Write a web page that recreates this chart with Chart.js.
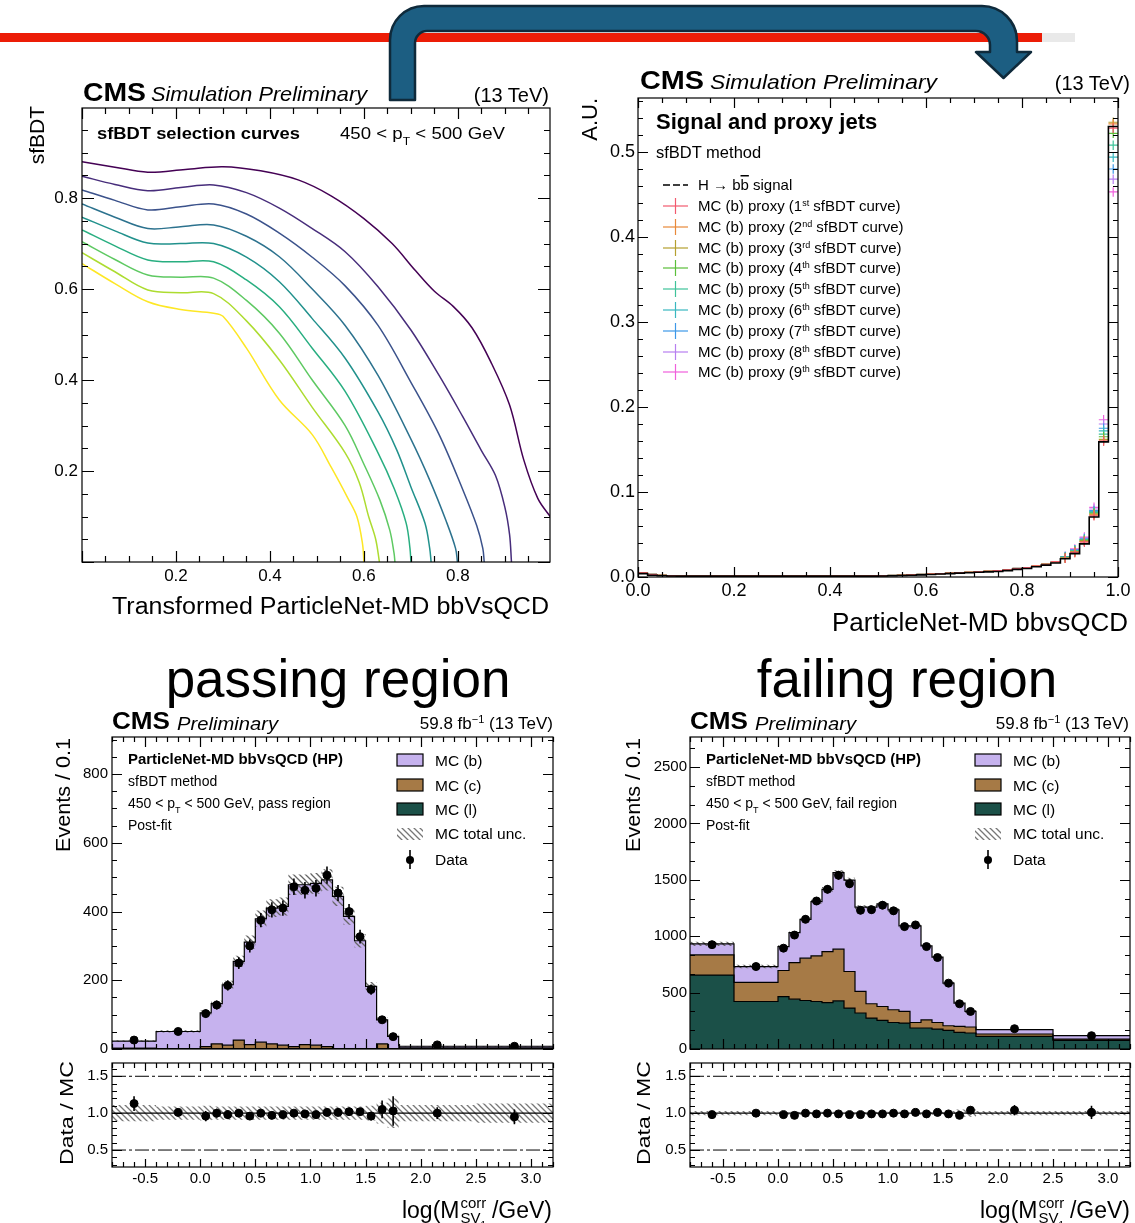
<!DOCTYPE html>
<html>
<head>
<meta charset="utf-8">
<title>sfBDT selection curves and SV mass templates</title>
<script src="https://cdn.jsdelivr.net/npm/chart.js@4.4.1/dist/chart.umd.min.js"></script>
<style>
  html, body { margin: 0; padding: 0; background: #fff; }
  body { position: relative; width: 1135px; height: 1223px; overflow: hidden; font-family: 'Liberation Sans', Arial, sans-serif; }
  canvas { position: absolute; z-index: 1; }
  #ann { position: absolute; left: 0; top: 0; z-index: 2; pointer-events: none; font-family: 'Liberation Sans', Arial, sans-serif; }
</style>
</head>
<body>
<svg id="ann" width="1135" height="1223" xmlns="http://www.w3.org/2000/svg">
  <defs>
    <pattern id="hatch" width="6" height="6" patternUnits="userSpaceOnUse">
      <path d="M-1,-1 L7,7 M-1,5 L1,7 M5,-1 L7,1" stroke="#777" stroke-width="1.3"/>
    </pattern>
  </defs>
  <rect x="0" y="33" width="1042" height="9" fill="#ec1d07"/>
  <rect x="1042" y="33" width="33" height="9" fill="#e9e9e9"/>
  <path d="M390 100 L390 40 A34 34 0 0 1 424 6 L982 6 A35 35 0 0 1 1017 41 L1017 52 L1031 52 L1003.5 78 L976 52 L990 52 L990 45 A14 14 0 0 0 976 31 L427 31 A12 12 0 0 0 415 43 L415 100 Z"
        fill="#1c5e82" stroke="#0f2a3b" stroke-width="2.5" stroke-linejoin="round"/>
</svg>
<script>
// sfBDT selection curves, (x, sfBDT) pairs, 1st curve on top
const curve1 = [[0,0.880],[0.07,0.868],[0.14,0.857],[0.22,0.863],[0.30,0.869],[0.38,0.860],[0.46,0.840],[0.53,0.805],[0.60,0.755],[0.66,0.700],[0.71,0.640],[0.75,0.595],[0.79,0.562],[0.83,0.515],[0.87,0.440],[0.91,0.345],[0.94,0.225],[0.97,0.140],[1.0,0.095]];
const curve2 = [[0,0.848],[0.07,0.830],[0.14,0.816],[0.21,0.823],[0.28,0.829],[0.35,0.812],[0.42,0.778],[0.49,0.733],[0.56,0.682],[0.63,0.605],[0.70,0.510],[0.76,0.410],[0.81,0.320],[0.85,0.245],[0.88,0.190],[0.90,0.120],[0.91,0.060],[0.914,0]];
const curve3 = [[0,0.818],[0.07,0.795],[0.14,0.774],[0.21,0.781],[0.28,0.787],[0.35,0.765],[0.42,0.723],[0.49,0.670],[0.56,0.607],[0.63,0.520],[0.70,0.395],[0.76,0.280],[0.81,0.160],[0.84,0.080],[0.853,0.030],[0.856,0]];
const curve4 = [[0,0.787],[0.07,0.758],[0.14,0.733],[0.21,0.737],[0.28,0.741],[0.35,0.716],[0.42,0.671],[0.49,0.600],[0.56,0.520],[0.63,0.410],[0.70,0.270],[0.74,0.180],[0.775,0.090],[0.795,0.030],[0.799,0]];
const curve5 = [[0,0.758],[0.07,0.728],[0.14,0.701],[0.21,0.700],[0.28,0.700],[0.35,0.670],[0.42,0.616],[0.49,0.535],[0.56,0.448],[0.63,0.330],[0.67,0.246],[0.70,0.165],[0.73,0.085],[0.74,0.030],[0.743,0]];
const curve6 = [[0,0.730],[0.07,0.695],[0.14,0.664],[0.21,0.660],[0.28,0.660],[0.35,0.620],[0.42,0.561],[0.49,0.470],[0.56,0.375],[0.63,0.240],[0.665,0.160],[0.69,0.085],[0.698,0.030],[0.700,0]];
const curve7 = [[0,0.704],[0.07,0.665],[0.14,0.631],[0.21,0.626],[0.28,0.624],[0.35,0.575],[0.42,0.503],[0.49,0.400],[0.56,0.300],[0.60,0.215],[0.634,0.136],[0.655,0.070],[0.664,0.020],[0.666,0]];
const curve8 = [[0,0.680],[0.07,0.638],[0.14,0.598],[0.21,0.592],[0.28,0.590],[0.35,0.530],[0.42,0.444],[0.49,0.340],[0.56,0.240],[0.59,0.175],[0.61,0.100],[0.625,0.050],[0.633,0]];
const curve9 = [[0,0.656],[0.07,0.612],[0.14,0.572],[0.21,0.555],[0.28,0.547],[0.30,0.540],[0.35,0.470],[0.42,0.356],[0.49,0.280],[0.53,0.209],[0.566,0.140],[0.585,0.100],[0.597,0.040],[0.600,0]];
const curveColors = ['#440154', '#472d7b', '#3b528b', '#2c728e', '#21918c', '#28ae80', '#5ec962', '#addc30', '#fde725'];

// ParticleNet-MD bbvsQCD shapes, 50 bins of 0.02
const signal = [0.004,0.002,0.0015,0.0012,0.001,0.001,0.001,0.001,0.001,0.001,
                0.001,0.001,0.001,0.001,0.001,0.001,0.001,0.001,0.001,0.001,
                0.001,0.001,0.001,0.001,0.001,0.0012,0.0015,0.0018,0.002,0.0025,
                0.003,0.0035,0.004,0.0045,0.005,0.0055,0.006,0.0065,0.0075,0.009,
                0.010,0.012,0.014,0.0165,0.0215,0.0275,0.039,0.0706,0.159,0.530];
// proxy curves agree below 0.88, they only split in the last six bins
const proxyLow = [0.005,0.003,0.002,0.0015,0.0012,0.0012,0.0012,0.0012,0.0012,0.0012,
                  0.0012,0.0012,0.0012,0.0012,0.0012,0.0012,0.0012,0.0012,0.0012,0.0012,
                  0.0012,0.0012,0.0012,0.0012,0.0013,0.0015,0.0018,0.0021,0.0025,0.003,
                  0.0035,0.004,0.0045,0.005,0.0056,0.0062,0.0068,0.0075,0.0085,0.010,
                  0.011,0.013,0.015,0.018];
const proxy1Tail = [0.022,0.029,0.041,0.072,0.160,0.528];
const proxy2Tail = [0.022,0.029,0.042,0.073,0.160,0.533];
const proxy3Tail = [0.022,0.030,0.042,0.074,0.162,0.535];
const proxy4Tail = [0.023,0.030,0.043,0.075,0.165,0.522];
const proxy5Tail = [0.023,0.031,0.044,0.076,0.168,0.508];
const proxy6Tail = [0.023,0.031,0.044,0.077,0.172,0.494];
const proxy7Tail = [0.024,0.032,0.045,0.078,0.175,0.480];
const proxy8Tail = [0.024,0.032,0.046,0.080,0.180,0.468];
const proxy9Tail = [0.024,0.033,0.047,0.082,0.185,0.453];
const proxyColors = ['#f25a6e', '#e8893a', '#b5a030', '#5bbf3a', '#3fc39a', '#3ab8c0', '#3d98e8', '#b77ff0', '#f060dc'];
const ordinals = ['st', 'nd', 'rd', 'th', 'th', 'th', 'th', 'th', 'th'];

// log(M_SV1^corr / GeV) binning
const svEdges = [-0.8, -0.4, 0.0, 0.1, 0.2, 0.3, 0.4, 0.5, 0.6, 0.7, 0.8, 0.9, 1.0, 1.1, 1.2, 1.3, 1.4, 1.5, 1.6, 1.7, 1.8, 2.5, 3.2];

// pass region, post-fit
const passB = [21,50,98,117,176,229,298,359,395,404,471,465,471,485,443,385,314,181,70,36,5,5];
const passC = [0,0,6,14,10,25,12,19,14,10,6,12,10,6,0,0,0,0,14,0,2,2];
const passL = [2,1,1,1,1,1,1,1,1,1,1,1,1,1,1,1,1,1,1,1,1,1];
const passData = [26,51,103,128,185,250,300,375,405,410,472,462,468,506,454,400,327,173,85,36,12,8];
const passDataErr = [8,10,12,13,15,17,19,21,22,22,24,24,24,25,23,22,20,15,10,7,3,2];
const passUnc = [0.11,0.09,0.10,0.09,0.09,0.09,0.09,0.09,0.09,0.09,0.09,0.09,0.09,0.09,0.09,0.09,0.09,0.10,0.14,0.20,0.11,0.13];
const passRatio = [1.13,1.01,0.96,1.00,0.98,1.00,0.96,1.00,0.97,0.98,1.00,0.99,0.98,1.01,1.01,1.02,1.02,0.96,1.05,1.03,1.00,0.95];
const passRatioErr = [0.10,0.05,0.07,0.06,0.06,0.05,0.05,0.04,0.04,0.04,0.04,0.04,0.04,0.04,0.04,0.04,0.05,0.06,0.12,0.20,0.08,0.10];

// fail region, post-fit
const failB = [97,141,212,266,345,480,552,678,811,747,856,909,885,758,856,655,579,378,207,138,38,30];
const failC = [180,169,231,324,375,405,452,458,324,191,127,124,113,103,49,73,58,41,53,53,21,12];
const failL = [655,421,465,442,430,421,412,427,363,319,274,253,235,230,186,186,177,165,147,142,112,76];
const failData = [925,731,894,1010,1150,1312,1416,1540,1465,1230,1235,1275,1225,1085,1100,908,811,584,401,333,180,118];
const failDataErr = [30,27,30,32,34,36,38,39,38,35,35,36,35,33,33,30,28,24,20,18,13,11];
const failUnc = [0.03,0.03,0.02,0.02,0.02,0.02,0.02,0.02,0.02,0.02,0.02,0.02,0.02,0.02,0.02,0.02,0.02,0.03,0.05,0.05,0.03,0.03];
const failRatio = [0.98,1.00,0.98,0.97,1.00,0.99,1.00,0.99,0.98,0.98,0.99,0.99,1.00,0.99,1.01,0.99,1.01,0.99,0.97,1.04,1.04,1.01];
const failRatioErr = [0.03,0.03,0.03,0.03,0.03,0.03,0.03,0.03,0.03,0.03,0.03,0.03,0.03,0.03,0.03,0.03,0.03,0.04,0.05,0.05,0.07,0.09];

const colB = '#c6b2ee', colC = '#a67a46', colL = '#1b5048';

Chart.defaults.font.family = "'Liberation Sans', Arial, sans-serif";
Chart.defaults.color = '#000';

const svCenters = svEdges.slice(0, -1).map((e, i) => (e + svEdges[i + 1]) / 2);
const bdtEdges = Array.from({length: 51}, (_, i) => +(i * 0.02).toFixed(2));
const bdtCenters = bdtEdges.slice(0, -1).map(e => e + 0.01);

// histogram outline: bin i spans edges[i]..edges[i+1] at height vals[i]
function stepData(edges, vals) {
  const pts = vals.map((v, i) => ({x: edges[i], y: v}));
  pts.push({x: edges[edges.length - 1], y: vals[vals.length - 1]});
  return pts;
}

function hatchPattern(color) {
  const c = document.createElement('canvas');
  c.width = 6; c.height = 6;
  const g = c.getContext('2d');
  g.strokeStyle = color; g.lineWidth = 1.3;
  g.beginPath();
  g.moveTo(-1, -1); g.lineTo(7, 7);
  g.moveTo(-1, 5); g.lineTo(1, 7);
  g.moveTo(5, -1); g.lineTo(7, 1);
  g.stroke();
  return g.createPattern(c, 'repeat');
}

function ticksAlong(min, max, step) {
  const out = [];
  for (let k = Math.ceil(min / step - 1e-6); k * step <= max + 1e-9; k++) out.push(k * step);
  return out;
}
const isMult = (v, m) => Math.abs(v / m - Math.round(v / m)) < 1e-6;

// ROOT style frame with inward ticks on all four sides
const framePlugin = {
  id: 'frame',
  afterDatasetsDraw(chart, args, o) {
    const {ctx, chartArea: a} = chart;
    const {x, y} = chart.scales;
    ctx.save();
    ctx.strokeStyle = '#000';
    ctx.lineWidth = 1.2;
    ctx.beginPath();
    for (const v of ticksAlong(x.min, x.max, o.xMinor)) {
      const p = Math.round(x.getPixelForValue(v)) + 0.5;
      const L = isMult(v, o.xMajor) ? o.xLen[0] : o.xLen[1];
      ctx.moveTo(p, a.bottom); ctx.lineTo(p, a.bottom - L);
      ctx.moveTo(p, a.top); ctx.lineTo(p, a.top + L);
    }
    for (const v of ticksAlong(y.min, y.max, o.yMinor)) {
      const p = Math.round(y.getPixelForValue(v)) + 0.5;
      const L = isMult(v, o.yMajor) ? o.yLen[0] : o.yLen[1];
      ctx.moveTo(a.left, p); ctx.lineTo(a.left + L, p);
      ctx.moveTo(a.right, p); ctx.lineTo(a.right - L, p);
    }
    ctx.stroke();
    ctx.strokeRect(a.left, a.top, a.right - a.left, a.bottom - a.top);
    ctx.restore();
  }
};

// vertical error bars for datasets carrying an `errors` array
const errorBars = {
  id: 'errorBars',
  afterDatasetsDraw(chart) {
    const {ctx, chartArea: a} = chart;
    const ys = chart.scales.y;
    ctx.save();
    ctx.beginPath();
    ctx.rect(a.left, a.top, a.right - a.left, a.bottom - a.top);
    ctx.clip();
    ctx.strokeStyle = '#000';
    ctx.lineWidth = 1.6;
    chart.data.datasets.forEach((ds, i) => {
      if (!ds.errors) return;
      chart.getDatasetMeta(i).data.forEach((pt, j) => {
        const v = ds.data[j].y, e = ds.errors[j];
        ctx.beginPath();
        ctx.moveTo(pt.x, ys.getPixelForValue(v - e));
        ctx.lineTo(pt.x, ys.getPixelForValue(v + e));
        ctx.stroke();
      });
    });
    ctx.restore();
  }
};

function panel(box, area, xs, ys, datasets, frame) {
  const cv = document.createElement('canvas');
  cv.width = box.w; cv.height = box.h;
  Object.assign(cv.style, {left: box.x + 'px', top: box.y + 'px', width: box.w + 'px', height: box.h + 'px'});
  document.body.appendChild(cv);
  const axis = (s, key, size) => ({
    type: 'linear', min: s.min, max: s.max,
    grid: {display: false, drawTicks: false},
    border: {display: false},
    afterBuildTicks: sc => { sc.ticks = s.labels.map(v => ({value: v})); },
    // fixed axis thickness, and no edge padding so the plot area stays where it is put
    afterFit: sc => {
      sc[key] = size;
      sc.paddingLeft = sc.paddingRight = sc.paddingTop = sc.paddingBottom = 0;
    },
    ticks: {display: s.show !== false, autoSkip: false, maxRotation: 0, padding: s.pad,
            font: {size: s.size}, color: '#000', callback: s.fmt}
  });
  return new Chart(cv, {
    type: 'line',
    data: {datasets},
    options: {
      responsive: false, animation: false, devicePixelRatio: 1,
      layout: {padding: {left: 0, top: area.t - box.y, right: box.x + box.w - area.r, bottom: 0}},
      scales: {
        x: axis(xs, 'height', box.y + box.h - area.b),
        y: axis(ys, 'width', area.l - box.x)
      },
      elements: {point: {radius: 0}, line: {tension: 0}},
      plugins: {legend: {display: false}, tooltip: {enabled: false},
                filler: {drawTime: 'beforeDatasetsDraw'}, frame}
    },
    plugins: [errorBars, framePlugin]
  });
}

const f1 = v => v.toFixed(1);
const f0 = v => v.toFixed(0);

// ---- top left: sfBDT selection curves ----
panel({x: 20, y: 94, w: 545, h: 501}, {l: 82, t: 108, r: 550, b: 562},
  {min: 0, max: 0.996, labels: [0.2, 0.4, 0.6, 0.8], pad: 4, size: 17, fmt: f1},
  {min: 0, max: 0.998, labels: [0.2, 0.4, 0.6, 0.8], pad: 4, size: 17, fmt: f1},
  [curve1, curve2, curve3, curve4, curve5, curve6, curve7, curve8, curve9].map((c, i) => ({
    data: c.map(([x, y]) => ({x, y})), borderColor: curveColors[i], borderWidth: 1.5,
    tension: 0.35, fill: false
  })),
  {xMajor: 0.2, xMinor: 0.05, yMajor: 0.2, yMinor: 0.05, xLen: [11, 6], yLen: [12, 6]});

// ---- top right: signal and proxy jets ----
const proxyTails = [proxy1Tail, proxy2Tail, proxy3Tail, proxy4Tail, proxy5Tail, proxy6Tail, proxy7Tail, proxy8Tail, proxy9Tail];
const proxySets = proxyTails.map((tail, p) => ({
  data: proxyLow.concat(tail).map((v, i) => ({x: bdtCenters[i], y: v})),
  showLine: false, pointRadius: 4.8, pointBorderWidth: 1.2,
  pointBorderColor: proxyColors[p], pointBackgroundColor: proxyColors[p],
  pointStyle: ctx => ctx.dataIndex >= 44 ? 'cross' : 'line',
  order: 1 + p
}));
panel({x: 595, y: 84, w: 540, h: 528}, {l: 638, t: 98, r: 1118, b: 577},
  {min: 0, max: 1, labels: [0, 0.2, 0.4, 0.6, 0.8, 1.0], pad: 3, size: 18, fmt: f1},
  {min: 0, max: 0.5635, labels: [0, 0.1, 0.2, 0.3, 0.4, 0.5], pad: 3, size: 18, fmt: f1},
  [{data: stepData(bdtEdges, signal), stepped: 'before', borderColor: '#000', borderWidth: 1.6, fill: false, order: 0}].concat(proxySets),
  {xMajor: 0.2, xMinor: 0.05, yMajor: 0.1, yMinor: 0.02, xLen: [10, 5], yLen: [10, 5]});

// ---- bottom: stacked templates with data, and Data / MC ----
function templateSets(b, c, l, data, err, unc) {
  const lc = l.map((v, i) => v + c[i]);
  const tot = lc.map((v, i) => v + b[i]);
  const line = {stepped: 'before', borderColor: '#000', borderWidth: 1.2};
  return [
    {...line, data: stepData(svEdges, l), backgroundColor: colL, fill: 'origin', order: 5},
    {...line, data: stepData(svEdges, lc), backgroundColor: colC, fill: '-1', order: 4},
    {...line, data: stepData(svEdges, tot), backgroundColor: colB, fill: '-1', order: 3},
    {data: stepData(svEdges, tot.map((v, i) => v * (1 + unc[i] * 0.7))), stepped: 'before', borderWidth: 0, borderColor: 'rgba(0,0,0,0)', fill: false, order: 2},
    {data: stepData(svEdges, tot.map((v, i) => v * (1 - unc[i] * 0.7))), stepped: 'before', borderWidth: 0, borderColor: 'rgba(0,0,0,0)',
     backgroundColor: hatchPattern('#666'), fill: '-1', order: 1},
    {data: data.map((v, i) => ({x: svCenters[i], y: v})), showLine: false, pointRadius: 4,
     pointBackgroundColor: '#000', pointBorderColor: '#000', errors: err, order: 0}
  ];
}

function ratioSets(ratio, err, unc) {
  const ref = (y, dash, w) => ({data: [{x: -0.8, y}, {x: 3.2, y}], borderColor: '#000', borderWidth: w, borderDash: dash, fill: false, order: 1});
  return [
    {data: ratio.map((v, i) => ({x: svCenters[i], y: v})), showLine: false, pointRadius: 4,
     pointBackgroundColor: '#000', pointBorderColor: '#000', errors: err, order: 0},
    ref(1.0, [], 1.3), ref(1.5, [14, 3, 3, 3], 1), ref(0.5, [14, 3, 3, 3], 1),
    {data: stepData(svEdges, unc.map(u => 1 + u)), stepped: 'before', borderWidth: 0, borderColor: 'rgba(0,0,0,0)', fill: false, order: 3},
    {data: stepData(svEdges, unc.map(u => 1 - u)), stepped: 'before', borderWidth: 0, borderColor: 'rgba(0,0,0,0)',
     backgroundColor: hatchPattern('#777'), fill: '-1', order: 2}
  ];
}

const svAxis = {min: -0.8, max: 3.2, labels: [-0.5, 0, 0.5, 1, 1.5, 2, 2.5, 3], pad: 3, size: 15, fmt: f1};
const mainFrame = yMajor => ({xMajor: 0.5, xMinor: 0.1, yMajor, yMinor: yMajor / (yMajor === 200 ? 4 : 3), xLen: [10, 5], yLen: [10, 5]});
const ratioFrame = {xMajor: 0.5, xMinor: 0.1, yMajor: 0.5, yMinor: 0.1, xLen: [8, 5], yLen: [10, 5]};
const ratioAxis = {min: 0.27, max: 1.68, labels: [0.5, 1.0, 1.5], pad: 4, size: 15, fmt: f1};

panel({x: 60, y: 725, w: 510, h: 335}, {l: 112, t: 737, r: 553, b: 1049},
  {...svAxis, show: false},
  {min: 0, max: 908, labels: [0, 200, 400, 600, 800], pad: 4, size: 15, fmt: f0},
  templateSets(passB, passC, passL, passData, passDataErr, passUnc), mainFrame(200));
panel({x: 60, y: 1052, w: 510, h: 141}, {l: 112, t: 1063, r: 553, b: 1167},
  svAxis, ratioAxis, ratioSets(passRatio, passRatioErr, passUnc), ratioFrame);

panel({x: 630, y: 725, w: 505, h: 335}, {l: 690, t: 737, r: 1131, b: 1049},
  {...svAxis, show: false},
  {min: 0, max: 2766, labels: [0, 500, 1000, 1500, 2000, 2500], pad: 3, size: 15, fmt: f0},
  templateSets(failB, failC, failL, failData, failDataErr, failUnc), mainFrame(500));
panel({x: 630, y: 1052, w: 505, h: 141}, {l: 690, t: 1063, r: 1131, b: 1167},
  svAxis, ratioAxis, ratioSets(failRatio, failRatioErr, failUnc), ratioFrame);

// ---- text and legends ----
const NS = 'http://www.w3.org/2000/svg';
const ann = document.getElementById('ann');
function el(tag, attrs) {
  const e = document.createElementNS(NS, tag);
  for (const k in attrs) e.setAttribute(k, attrs[k]);
  ann.appendChild(e);
  return e;
}
function text(x, y, html, size, o = {}) {
  const a = {x, y, 'font-size': size};
  if (o.anchor) a['text-anchor'] = o.anchor;
  if (o.bold) a['font-weight'] = 'bold';
  if (o.italic) a['font-style'] = 'italic';
  if (o.len) { a.textLength = o.len; a.lengthAdjust = 'spacingAndGlyphs'; }
  if (o.rot) a.transform = `rotate(-90 ${x} ${y})`;
  const t = el('text', a);
  t.innerHTML = html;
  return t;
}
const sup = (s, fs) => `<tspan baseline-shift="super" font-size="${fs}">${s}</tspan>`;
const sub = (s, fs) => `<tspan baseline-shift="sub" font-size="${fs}">${s}</tspan>`;

function logMassTitle(xRight, y) {
  const a = text(0, y, 'log(M', 23);
  const up = text(0, y - 10, 'corr', 15);
  const dn = text(0, y + 5, 'SV' + sub('1', 10), 15);
  const b = text(0, y, '&#8201;/GeV)', 23);
  const wa = a.getComputedTextLength(), wu = up.getComputedTextLength();
  const wd = dn.getComputedTextLength(), wb = b.getComputedTextLength();
  const x0 = xRight - (wa + Math.max(wu, wd) + 2 + wb);
  a.setAttribute('x', x0);
  up.setAttribute('x', x0 + wa + 1);
  dn.setAttribute('x', x0 + wa + 1);
  b.setAttribute('x', x0 + wa + Math.max(wu, wd) + 2);
}

// top left
text(83, 101, 'CMS', 25, {bold: true, len: 63});
text(151, 101, 'Simulation Preliminary', 21, {italic: true, len: 216});
text(549, 102, '(13 TeV)', 20, {anchor: 'end'});
text(97, 139, 'sfBDT selection curves', 17, {bold: true, len: 203});
text(340, 139, '450 &lt; p' + sub('T', 11) + ' &lt; 500 GeV', 17, {len: 165});
text(44, 106, 'sfBDT', 21, {rot: true, anchor: 'end'});
text(549, 614, 'Transformed ParticleNet-MD bbVsQCD', 23, {anchor: 'end', len: 437});

// top right
text(640, 89, 'CMS', 25, {bold: true, len: 64});
text(710, 89, 'Simulation Preliminary', 21, {italic: true, len: 227});
text(1130, 90, '(13 TeV)', 20, {anchor: 'end'});
text(597, 98, 'A.U.', 22, {rot: true, anchor: 'end'});
text(1128, 631, 'ParticleNet-MD bbvsQCD', 25, {anchor: 'end', len: 296});
text(656, 129, 'Signal and proxy jets', 22, {bold: true});
text(656, 158, 'sfBDT method', 16.5);
const legY = [190, 211, 232, 253, 273, 294, 315, 336, 357, 377];
el('line', {x1: 663, x2: 688, y1: legY[0] - 5, y2: legY[0] - 5, stroke: '#000', 'stroke-width': 1.3, 'stroke-dasharray': '7 3'});
text(698, legY[0], 'H &#8594; b<tspan style="text-decoration:overline">b</tspan> signal', 15);
proxyColors.forEach((c, p) => {
  const y = legY[p + 1] - 5;
  el('line', {x1: 663, x2: 688, y1: y, y2: y, stroke: c, 'stroke-width': 1.2});
  el('line', {x1: 675.5, x2: 675.5, y1: y - 8, y2: y + 8, stroke: c, 'stroke-width': 1.2});
  text(698, legY[p + 1], `MC (b) proxy (${p + 1}${sup(ordinals[p], 9)} sfBDT curve)`, 15);
});

// bottom panels
text(338, 697, 'passing region', 53, {anchor: 'middle'});
text(907, 697, 'failing region', 53, {anchor: 'middle'});

function templateLabels(dx, region, yTitleX, ratioTitleX) {
  text(112 + dx, 729, 'CMS', 23, {bold: true, len: 58});
  text(177 + dx, 730, 'Preliminary', 19, {italic: true, len: 101});
  text(553 + dx - (dx ? 2 : 0), 729, '59.8 fb' + sup('&#8722;1', 11) + ' (13 TeV)', 17, {anchor: 'end'});
  text(128 + dx, 764, 'ParticleNet-MD bbVsQCD (HP)', 14, {bold: true, len: 215});
  text(128 + dx, 786, 'sfBDT method', 14);
  text(128 + dx, 808, '450 &lt; p' + sub('T', 9) + ' &lt; 500 GeV, ' + region, 14);
  text(128 + dx, 830, 'Post-fit', 14);
  const bx = 397 + dx, tx = 435 + dx;
  [[colB, 754, 'MC (b)', 766], [colC, 779, 'MC (c)', 791], [colL, 803, 'MC (l)', 815]].forEach(([c, y, s, ty]) => {
    el('rect', {x: bx, y, width: 26, height: 12, fill: c, stroke: '#000', 'stroke-width': 1.2});
    text(tx, ty, s, 15.5);
  });
  el('rect', {x: bx, y: 828, width: 26, height: 12, fill: 'url(#hatch)'});
  text(tx, 839, 'MC total unc.', 15.5);
  el('line', {x1: bx + 13, x2: bx + 13, y1: 850, y2: 869, stroke: '#000', 'stroke-width': 1.6});
  el('circle', {cx: bx + 13, cy: 860, r: 4, fill: '#000'});
  text(tx, 865, 'Data', 15.5);
  text(yTitleX, 738, 'Events / 0.1', 20, {rot: true, anchor: 'end', len: 114});
  text(ratioTitleX, 1113, 'Data / MC', 19, {rot: true, anchor: 'middle', len: 104});
  logMassTitle(552 + dx, 1218);
}
templateLabels(0, 'pass region', 70, 73);
templateLabels(578, 'fail region', 640, 650);
</script>
</body>
</html>
